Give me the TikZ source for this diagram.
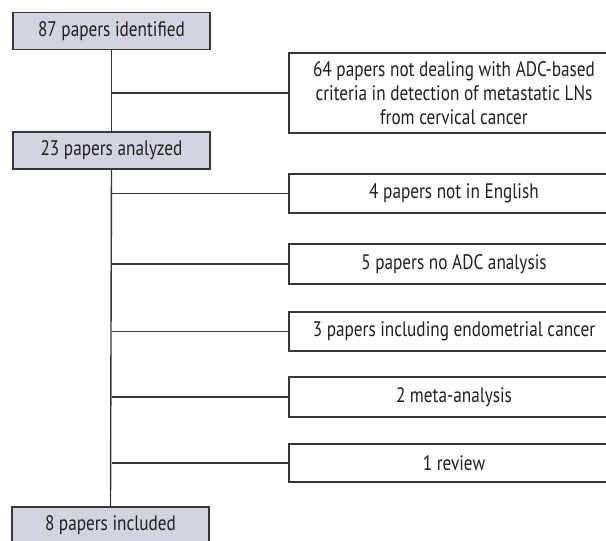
\documentclass[tikz,border=0pt]{standalone}
\usepackage{fontspec}
\setmainfont[FakeStretch=0.82]{PT Sans}
\definecolor{boxfill}{RGB}{210,213,223}
\definecolor{edge}{RGB}{55,55,55}
\definecolor{txt}{RGB}{35,31,32}
\begin{document}
\begin{tikzpicture}[x=1pt,y=-1pt,
  every node/.style={font=\fontsize{21}{24}\selectfont, text=txt, inner sep=0pt},
  mainbox/.style={draw=edge, line width=1.4pt, fill=boxfill, minimum width=197pt, minimum height=37pt},
  sidebox/.style={draw=edge, line width=1.4pt, fill=white, minimum width=330pt, align=center},
  conn/.style={draw=edge, line width=1.4pt}]
\useasboundingbox (0,0) rectangle (606,541);
\clip (0,0) rectangle (606,541);
\node[mainbox] (b1) at (111.5,31) {87 papers identified};
\node[mainbox] (b23) at (111.5,150.5) {23 papers analyzed};
\node[mainbox] (b8) at (110.5,525.5) {8 papers included};
\node[sidebox, minimum height=80pt] (s64) at (454,93) {64 papers not dealing with ADC-based\\criteria in detection of metastatic LNs\\from cervical cancer};
\node[sidebox, minimum height=39pt] (s4) at (454,193.5) {4 papers not in English};
\node[sidebox, minimum height=40pt] (s5) at (454,264) {5 papers no ADC analysis};
\node[sidebox, minimum height=39pt] (s3) at (454,331.5) {3 papers including endometrial cancer};
\node[sidebox, minimum height=40pt] (s2) at (454,397) {2 meta-analysis};
\node[sidebox, minimum height=38pt] (s1) at (454,463) {1 review};
\draw[conn] (b1.south) -- (b23.north);
\draw[conn] (b23.south) -- (b8.north);
\foreach \s in {s64,s4,s5,s3,s2,s1}
  \draw[conn] (\s.west -| b1.south) -- (\s.west);
\end{tikzpicture}
\end{document}
